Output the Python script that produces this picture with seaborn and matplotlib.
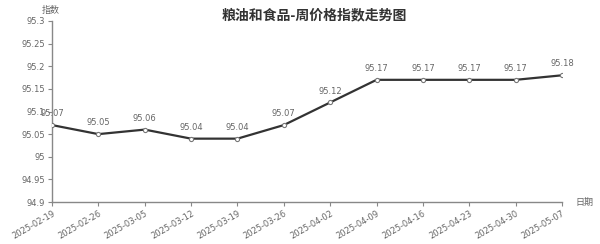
import matplotlib
matplotlib.use("Agg")
import matplotlib.pyplot as plt
import seaborn as sns
import pandas as pd

dates = ["2025-02-19", "2025-02-26", "2025-03-05", "2025-03-12", "2025-03-19",
         "2025-03-26", "2025-04-02", "2025-04-09", "2025-04-16", "2025-04-23",
         "2025-04-30", "2025-05-07"]
index_values = [95.07, 95.05, 95.06, 95.04, 95.04, 95.07, 95.12, 95.17,
                95.17, 95.17, 95.17, 95.18]
y_ticks = [94.9, 94.95, 95, 95.05, 95.1, 95.15, 95.2, 95.25, 95.3]
y_tick_labels = ["94.9", "94.95", "95", "95.05", "95.1", "95.15", "95.2", "95.25", "95.3"]

sns.set_theme(style="white")
plt.rcParams["font.family"] = ["Noto Sans CJK SC", "DejaVu Sans"]

df = pd.DataFrame({"pos": range(len(dates)), "value": index_values})

fig = plt.figure(figsize=(6.0, 2.44), dpi=100)
ax = fig.add_axes([52 / 600, 1 - 202 / 244, 510 / 600, 181 / 244])

text_color = "#666666"
axis_color = "#888888"

sns.lineplot(data=df, x="pos", y="value", ax=ax, color="#333333", linewidth=1.6,
             marker="o", markersize=3, markerfacecolor="white",
             markeredgecolor="#777777", markeredgewidth=0.8, zorder=3)

for x, v in zip(df["pos"], df["value"]):
    ax.annotate(f"{v:.2f}", (x, v), xytext=(0, 5), textcoords="offset points",
                ha="center", va="bottom", fontsize=6, color=text_color,
                family="DejaVu Sans")

ax.set_xlim(0, len(dates) - 1)
ax.set_ylim(94.9, 95.3)
ax.set_xticks(range(len(dates)))
ax.set_xticklabels(dates, rotation=30, ha="right", rotation_mode="anchor",
                   fontsize=6, color=text_color, family="DejaVu Sans")
ax.set_yticks(y_ticks)
ax.set_yticklabels(y_tick_labels, fontsize=6, color=text_color, family="DejaVu Sans")
ax.tick_params(axis="both", length=3, width=0.8, color=axis_color, pad=2,
               bottom=True, left=True)
ax.set_xlabel("")
ax.set_ylabel("")

for side in ("top", "right"):
    ax.spines[side].set_visible(False)
for side in ("left", "bottom"):
    ax.spines[side].set_color(axis_color)
    ax.spines[side].set_linewidth(1.0)

fig.text(314 / 600, 1 - 15 / 244, "粮油和食品-周价格指数走势图", ha="center", va="center",
         fontsize=10, fontweight="bold", color="#333333")
fig.text(51 / 600, 1 - 10 / 244, "指数", ha="center", va="center",
         fontsize=6.5, color=text_color)
fig.text(584 / 600, 1 - 202 / 244, "日期", ha="center", va="center",
         fontsize=6.5, color=text_color)

fig.savefig("out.png", dpi=100)
